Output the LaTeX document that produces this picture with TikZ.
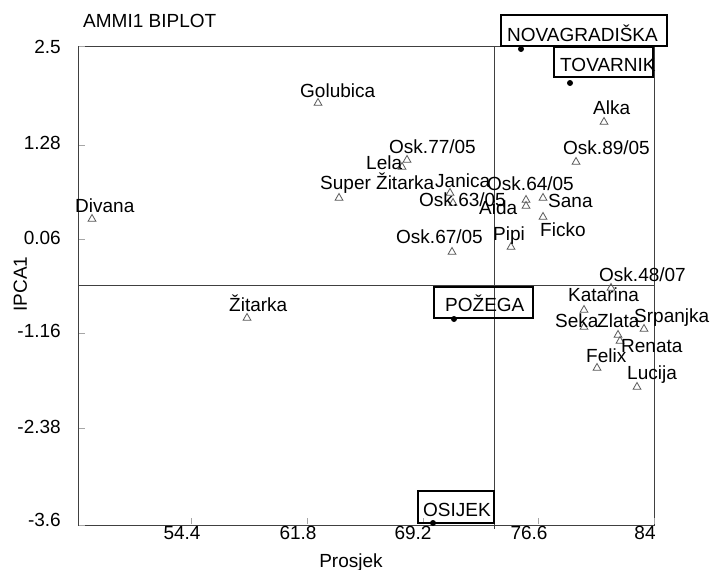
\documentclass[tikz,border=0pt]{standalone}
\usepackage{fontspec}
\setmainfont{Liberation Sans}
\usetikzlibrary{shapes.geometric}
\tikzset{
  lbl/.style={font=\fontsize{19}{21}\selectfont, inner sep=0pt, anchor=base west, text=black},
  ylbl/.style={lbl, anchor=base east},
  xlbl/.style={lbl, anchor=base},
  tri/.style={regular polygon, regular polygon sides=3, draw=black!65, line width=0.8pt, minimum size=9pt, inner sep=0pt},
  dotmark/.style={circle, fill=black, inner sep=0pt, minimum size=6pt},
  envbox/.style={draw=black, line width=2.8pt, inner sep=0pt},
  frameline/.style={draw=black!75, line width=1pt},
  tickline/.style={draw=black!35, line width=0.7pt}
}
\begin{document}
\begin{tikzpicture}[x=1pt,y=-1pt]
\useasboundingbox (0,0) rectangle (710,570);
\fill[white] (0,0) rectangle (710,570);
% frame and reference lines
\draw[frameline] (78,46) rectangle (654,525);
\coordinate (hl) at (78,285);
\coordinate (hr) at (654,285);
\coordinate (vt) at (494,46);
\coordinate (vb) at (494,529);
\draw[frameline] (hl) -- (hr);
\draw[frameline] (vt) -- (vb);
% ticks
\foreach \yy in {46,145,239,333,428,525} \draw[tickline] (79,\yy) -- (85,\yy);
\foreach \xx in {191,307,423,538,654} \draw[tickline] (\xx,524) -- (\xx,518);
% axis tick labels
\node[ylbl] (y1) at (61,53.5) {2.5};
\node[ylbl] (y2) at (61,149.5) {1.28};
\node[ylbl] (y3) at (61,244.5) {0.06};
\node[ylbl] (y4) at (61,337.5) {-1.16};
\node[ylbl] (y5) at (61,433.5) {-2.38};
\node[ylbl] (y6) at (61,526.5) {-3.6};
\node[xlbl] (x1) at (182,539.5) {54.4};
\node[xlbl] (x2) at (298,539.5) {61.8};
\node[xlbl] (x3) at (413,539.5) {69.2};
\node[xlbl] (x4) at (529,539.5) {76.6};
\node[xlbl] (x5) at (645,539.5) {84};
\node[xlbl] (xt) at (351,567) {Prosjek};
\node[lbl, anchor=base, rotate=90] (yt) at (27,284) {IPCA1};
\node[lbl] (title) at (83,27.5) {AMMI1 BIPLOT};
% genotypes (triangles)
\node[tri] (tGol) at (318,103) {};
\node[tri] (tO77) at (407,160) {};
\node[tri] (tLel) at (402,167) {};
\node[tri] (tSup) at (339,198) {};
\node[tri] (tJan) at (450,193) {};
\node[tri] (tO63) at (453,203) {};
\node[tri] (tO64) at (526,200) {};
\node[tri] (tAid) at (526,206) {};
\node[tri] (tSan) at (543,198) {};
\node[tri] (tFic) at (543,217) {};
\node[tri] (tPip) at (511,247) {};
\node[tri] (tO67) at (452,252) {};
\node[tri] (tAlk) at (604,122) {};
\node[tri] (tO89) at (576,162) {};
\node[tri] (tDiv) at (92,219) {};
\node[tri] (tZit) at (247,318) {};
\node[tri] (tO48) at (611,288) {};
\node[tri] (tKat) at (584,310) {};
\node[tri] (tSek) at (584,327) {};
\node[tri] (tZla) at (618,335) {};
\node[tri] (tRen) at (620,341) {};
\node[tri] (tSrp) at (644,329) {};
\node[tri] (tFel) at (597,368) {};
\node[tri] (tLuc) at (637,387) {};
% genotype labels
\node[lbl] (lGol) at (300,97) {Golubica};
\node[lbl] (lO77) at (389,153.5) {Osk.77/05};
\node[lbl] (lLel) at (366,169.5) {Lela};
\node[lbl] (lSup) at (320,189.5) {Super Žitarka};
\node[lbl] (lJan) at (435,187.5) {Janica};
\node[lbl] (lO63) at (419,206.5) {Osk.63/05};
\node[lbl] (lO64) at (487,190.5) {Osk.64/05};
\node[lbl] (lAid) at (479,214.5) {Aida};
\node[lbl] (lSan) at (548,207.5) {Sana};
\node[lbl] (lFic) at (540,236.5) {Ficko};
\node[lbl] (lPip) at (493,240.5) {Pipi};
\node[lbl] (lO67) at (396,243.5) {Osk.67/05};
\node[lbl] (lAlk) at (593,114.5) {Alka};
\node[lbl] (lO89) at (563,154.5) {Osk.89/05};
\node[lbl] (lDiv) at (75,212.5) {Divana};
\node[lbl] (lZit) at (229,311.5) {Žitarka};
\node[lbl] (lO48) at (599,281.5) {Osk.48/07};
\node[lbl] (lKat) at (568,301.5) {Katarina};
\node[lbl] (lSek) at (555,327.5) {Seka};
\node[lbl] (lZla) at (597,327.5) {Zlata};
\node[lbl] (lSrp) at (634,322.5) {Srpanjka};
\node[lbl] (lRen) at (621,352.5) {Renata};
\node[lbl] (lFel) at (586,362.5) {Felix};
\node[lbl] (lLuc) at (627,379.5) {Lucija};
% environments
\node[envbox, minimum width=166pt, minimum height=31pt] (bNG) at (584,30.5) {};
\node[lbl] (eNG) at (507,41.5) {NOVAGRADIŠKA};
\node[dotmark] (dNG) at (521,49) {};
\node[envbox, minimum width=99pt, minimum height=30pt] (bTO) at (603.5,62) {};
\node[lbl] (eTO) at (560,71.5) {TOVARNIK};
\node[dotmark] (dTO) at (570,83) {};
\node[envbox, minimum width=99pt, minimum height=31pt] (bPO) at (483.5,302.5) {};
\node[lbl] (ePO) at (445,311.5) {POŽEGA};
\node[dotmark] (dPO) at (454,319) {};
\node[envbox, minimum width=76pt, minimum height=32pt] (bOS) at (456,507) {};
\node[lbl] (eOS) at (423,516.5) {OSIJEK};
\node[dotmark] (dOS) at (433,523) {};
\end{tikzpicture}
\end{document}
